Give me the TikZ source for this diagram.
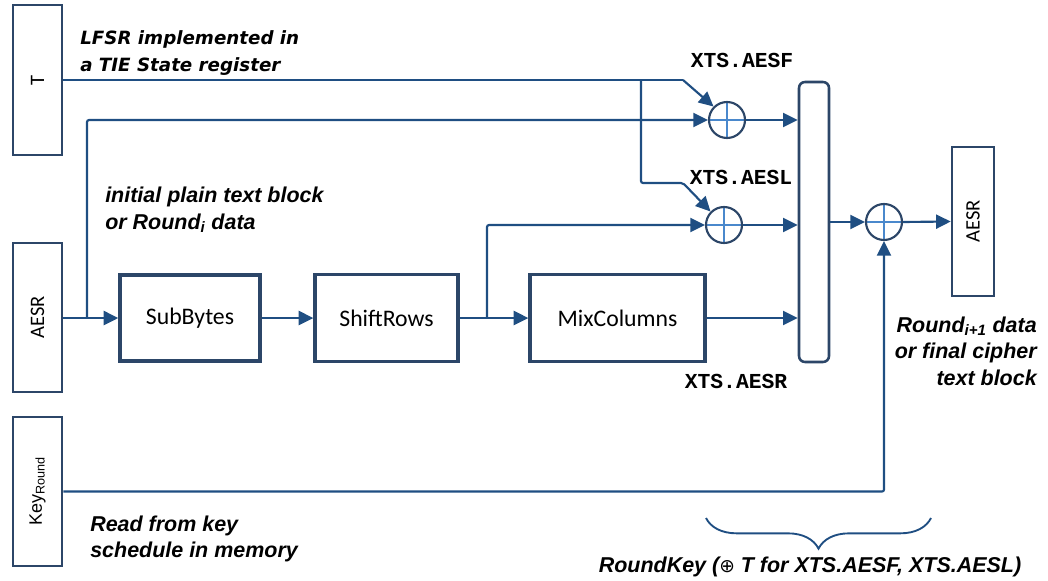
\documentclass[tikz,border=0pt]{standalone}
\usepackage{fontspec}
\setmainfont{Liberation Sans}
\newfontfamily\carl{Carlito}
\newfontfamily\dvs{DejaVu Sans}
\newfontfamily\lmono{Liberation Mono}
\usetikzlibrary{arrows.meta,decorations.pathreplacing}
\definecolor{linec}{RGB}{31,78,130}
\definecolor{boxc}{RGB}{44,70,104}
\definecolor{xorc}{RGB}{74,136,204}
\begin{document}
\begin{tikzpicture}[x=0.75pt,y=-0.75pt,
  reg/.style={draw=boxc, line width=1.9pt, fill=white, inner sep=0pt},
  stage/.style={draw=boxc, line width=2.5pt, fill=white, inner sep=0pt,
    font=\carl\fontsize{17.8pt}{20pt}\selectfont},
  xor/.style={circle, draw=boxc, line width=1.6pt, minimum size=27pt, inner sep=0pt, fill=white,
    path picture={\draw[xorc, line width=1.1pt]
      (path picture bounding box.north) -- (path picture bounding box.south)
      (path picture bounding box.west) -- (path picture bounding box.east);}},
  wire/.style={draw=linec, line width=1.6pt, rounded corners=1.5pt},
  arr/.style={wire, -{Triangle[length=11pt,width=10.5pt]}},
  note/.style={font=\bfseries\itshape\fontsize{16.1pt}{19.8pt}\selectfont, align=left, inner sep=0pt},
  vnote/.style={font=\dvs\bfseries\itshape\fontsize{13.7pt}{20.25pt}\selectfont, align=left, inner sep=0pt},
  mono/.style={font=\lmono\bfseries\fontsize{16pt}{18pt}\selectfont, inner sep=0pt},
  vlab/.style={rotate=90, font=\carl\fontsize{15.4pt}{17pt}\selectfont},
]
\useasboundingbox (0,0) rectangle (1048,581);

% registers
\node[reg, minimum width=36.75pt, minimum height=112.5pt,
  label={[vlab]center:T}] (T) at (37.5,80) {};
\node[reg, minimum width=36.75pt, minimum height=111.75pt,
  label={[vlab]center:AESR}] (AESRl) at (37.5,317.5) {};
\node[reg, minimum width=36.75pt, minimum height=111.75pt,
  label={[rotate=90, font=\fontsize{13.5pt}{15pt}\selectfont]center:Key\textsubscript{Round}}] (Key) at (37.5,491.5) {};
\node[reg, minimum width=31.5pt, minimum height=111.75pt,
  label={[vlab]center:AESR}] (AESRr) at (973,221.5) {};

% stages
\node[stage, minimum width=105pt, minimum height=64.5pt] (SB) at (190,318) {SubBytes};
\node[stage, minimum width=107.25pt, minimum height=65.25pt] (SR) at (386.5,318) {ShiftRows};
\node[stage, minimum width=131.25pt, minimum height=65.25pt] (MC) at (617.5,318) {MixColumns};

% mux
\node[draw=boxc, line width=1.9pt, fill=white, rounded corners=4.5pt,
  minimum width=22.5pt, minimum height=210pt, inner sep=0pt] (mux) at (814,222) {};

% xors
\node[xor] (x1) at (727,120) {};
\node[xor] (x2) at (724,225) {};
\node[xor] (x3) at (884,222) {};

% T path
\coordinate (tj) at (641,80);
\coordinate (tb1) at (683,80);
\coordinate (tj2) at (641,183);
\coordinate (tb2) at (683,183);
\draw[wire] (T.east) -- (tb1);
\draw[arr] (tb1) -- (x1.135);
\draw[arr] (tj) -- (tj2) -- (tb2) -- (x2.135);

% AESR path
\coordinate (aj) at (87,318);
\draw[arr] (AESRl.east |- aj) -- (SB.west);
\draw[arr] (aj) |- (x1.west);
\draw[arr] (SB.east) -- (SR.west);
\draw[arr] (SR.east) -- (MC.west);
\coordinate (sj) at (487,318);
\draw[arr] (sj) |- (x2.west);

% into mux
\draw[arr] (x1.east) -- (x1.east -| mux.west);
\draw[arr] (x2.east) -- (x2.east -| mux.west);
\draw[arr] (MC.east) -- (MC.east -| mux.west);

% out
\draw[arr] (mux.east |- x3.west) -- (x3.west);
\draw[arr] (x3.east) -- (AESRr.west);
\draw[arr] (Key.east) -| (x3.south);

% labels
\node[vnote, anchor=west] (lfsr) at (80,53) {LFSR implemented in\\a TIE State register};
\node[mono] (lf) at (742,60) {XTS.AESF};
\node[mono] (ll) at (741,177) {XTS.AESL};
\node[mono] (lr) at (736,381) {XTS.AESR};
\node[note, anchor=west] (init) at (105,210) {initial plain text block\\or Round\textsubscript{i} data};
\node[note, anchor=east, align=right] (out) at (1037,351) {Round\textsubscript{i+1} data\\or final cipher\\text block};
\node[note, anchor=west] (read) at (90,539) {Read from key\\schedule in memory};

% brace
\coordinate (br1) at (931,518);
\coordinate (br2) at (706,518);
\draw[draw=linec, line width=1.4pt, decorate, decoration={brace, amplitude=23pt}] (br1) -- (br2);
\node[note] (rk) at (810,567) {RoundKey ({\dvs\mdseries\upshape\fontsize{14pt}{16pt}\selectfont ⊕} T for XTS.AESF, XTS.AESL)};
\end{tikzpicture}
\end{document}
